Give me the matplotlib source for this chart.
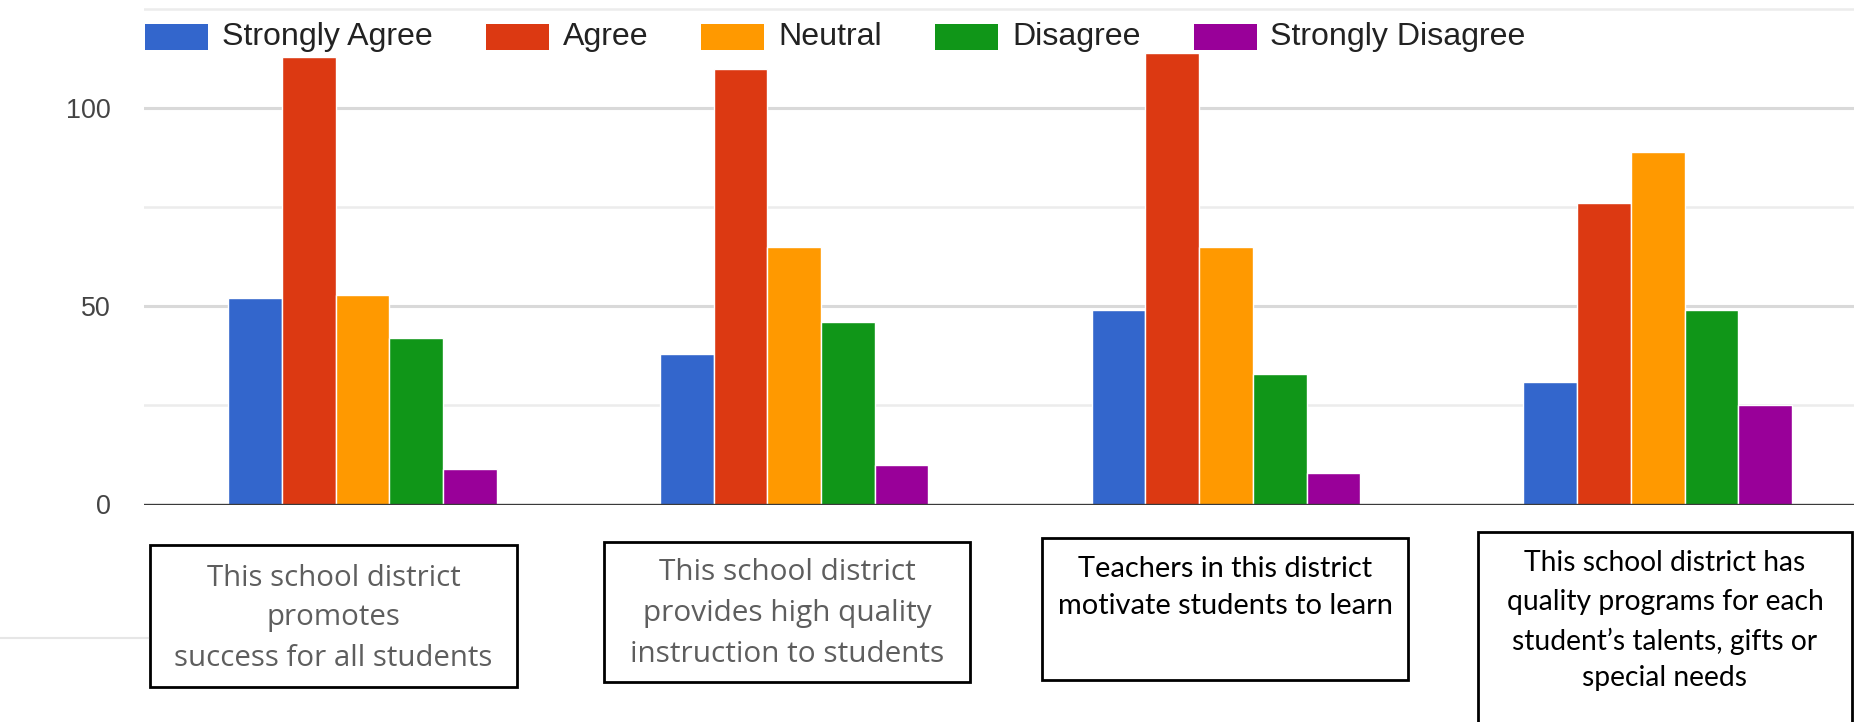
import matplotlib
matplotlib.use("Agg")
import matplotlib.pyplot as plt
from matplotlib.patches import Rectangle
import numpy as np

# ---- data ----
categories = [
    "This school district\npromotes\nsuccess for all students",
    "This school district\nprovides high quality\ninstruction to students",
    "Teachers in this district\nmotivate students to learn",
    "This school district has\nquality programs for each\nstudent\u2019s talents, gifts or\nspecial needs",
]
series_names = ["Strongly Agree", "Agree", "Neutral", "Disagree", "Strongly Disagree"]
strongly_agree = [52, 38, 49, 31]
agree = [113, 110, 114, 76]
neutral = [53, 65, 65, 89]
disagree = [42, 46, 33, 49]
strongly_disagree = [9, 10, 8, 25]
series_values = [strongly_agree, agree, neutral, disagree, strongly_disagree]
colors = ["#3366cc", "#dc3912", "#ff9900", "#109618", "#990099"]
y_ticks = [0, 50, 100]
y_minor = [25, 75, 125]

W, H = 1854, 722
fig = plt.figure(figsize=(W / 100, H / 100), dpi=100)
fig.patch.set_facecolor("white")

def fx(px):
    return px / W

def fy(py):
    return 1 - py / H

# axes geometry (pixels)
ax_left = 144.3
ax_base = 504.5
px_per_unit_y = 3.962
xlim = (-0.505, 3.5)
px_per_unit_x = 431.8
ylim = (0, 126)
ax_w = (xlim[1] - xlim[0]) * px_per_unit_x
ax_h = (ylim[1] - ylim[0]) * px_per_unit_y
ax = fig.add_axes([fx(ax_left), 1 - ax_base / H, ax_w / W, ax_h / H])
ax.set_xlim(*xlim)
ax.set_ylim(*ylim)

for s in ax.spines.values():
    s.set_visible(False)

# gridlines
for v in y_ticks[1:]:
    ax.axhline(v, color="#d9d9d9", lw=2.2, zorder=0)
for v in y_minor:
    ax.axhline(v, color="#ececec", lw=1.8, zorder=0)

x = np.arange(len(categories))
bw = 0.1244
for i, (name, vals, c) in enumerate(zip(series_names, series_values, colors)):
    ax.bar(x + (i - 2) * bw, vals, width=bw, color=c, edgecolor="white",
           linewidth=1.0, zorder=2, label=name)

ax.axhline(0, color="#3a3a3a", lw=2.4, zorder=3)

ax.set_xticks([])
ax.set_yticks(y_ticks)
ax.set_yticklabels([str(t) for t in y_ticks], fontsize=20, color="#444444",
                   family="Liberation Sans")
ax.tick_params(axis="y", length=0, pad=24)

fig.canvas.draw()
renderer = fig.canvas.get_renderer()

def fit(t, target_w):
    bb = t.get_window_extent(renderer)
    t.set_fontsize(t.get_fontsize() * target_w / bb.width)

# y tick label size fit ("100" ~ 45px wide)
lbls = ax.get_yticklabels()
bb = lbls[-1].get_window_extent(renderer)
fs = 20 * 45 / bb.width
for l in lbls:
    l.set_fontsize(fs)

# ---- legend (manual, Google-chart style) ----
leg_y = 37
box_w, box_h = 63, 26
probe = fig.text(0, 0, "Strongly Agree", fontsize=22, family="Liberation Sans")
fit(probe, 210)
leg_fs = probe.get_fontsize()
probe.remove()
cur_x = 145
for name, c in zip(series_names, colors):
    fig.patches.append(Rectangle((fx(cur_x), fy(leg_y + box_h / 2)), box_w / W, box_h / H,
                                 transform=fig.transFigure, facecolor=c, edgecolor="none"))
    t = fig.text(fx(cur_x + box_w + 14), fy(leg_y), name, fontsize=leg_fs,
                 family="Liberation Sans", color="#222222", va="center", ha="left")
    fig.canvas.draw()
    tb = t.get_window_extent(renderer)
    cur_x = cur_x + box_w + 14 + tb.width + 53

# faint stray line at left
fig.add_artist(plt.Line2D([0, fx(148)], [fy(638), fy(638)], transform=fig.transFigure,
                          color="#e6e6e6", lw=1.5))

# ---- category boxes ----
boxes = [
    (150, 545, 517, 687),
    (604, 542, 970, 682),
    (1042, 538, 1408, 680),
    (1478, 532, 1852, 760),
]
line_y = [
    [578, 618, 658],
    [572, 613, 655],
    [569, 606],
    [563, 602, 641, 678],
]
targets = [319, 315, 336, 318]
styles = [
    dict(color="#5e5e5e", family="Open Sans"),
    dict(color="#5e5e5e", family="Open Sans"),
    dict(color="#000000", family="Lato"),
    dict(color="#000000", family="Lato"),
]
for cat, (x0, y0, x1, y1), ly, tw, st in zip(categories, boxes, line_y, targets, styles):
    fig.patches.append(Rectangle((fx(x0), fy(y1)), (x1 - x0) / W, (y1 - y0) / H,
                                 transform=fig.transFigure, facecolor="white",
                                 edgecolor="black", lw=2.0))
    lines = cat.split("\n")
    cx = (x0 + x1) / 2
    texts = []
    for ln, yy in zip(lines, ly):
        texts.append(fig.text(fx(cx), fy(yy), ln, ha="center", va="center",
                              fontsize=16, **st))
    fig.canvas.draw()
    widest = max(texts, key=lambda t: t.get_window_extent(renderer).width)
    scale = tw / widest.get_window_extent(renderer).width
    for t in texts:
        t.set_fontsize(16 * scale)

fig.savefig("out.png", dpi=100, facecolor="white")
